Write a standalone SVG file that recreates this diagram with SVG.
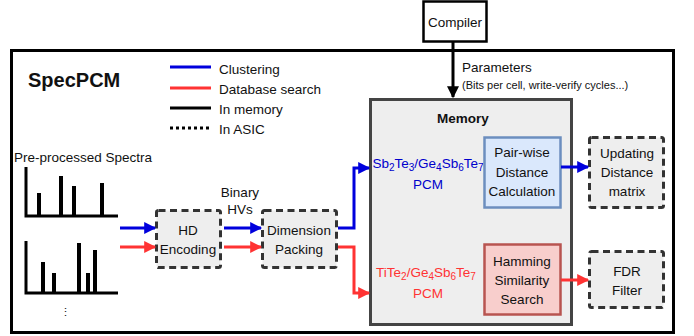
<svg xmlns="http://www.w3.org/2000/svg" width="694" height="336" viewBox="0 0 694 336">
<defs>
<style>
text{font-family:"Liberation Sans",Arial,sans-serif;font-size:13.5px;fill:#111}
.b{font-weight:bold}
.c{text-anchor:middle}
.dash{fill:#eeeeee;stroke:#333;stroke-width:3;stroke-dasharray:7 4.5}
.blue{stroke:#0000dd;stroke-width:3;fill:none}
.red{stroke:#ff3333;stroke-width:3;fill:none}
.blk{stroke:#000;stroke-width:3;fill:none}
.sub{font-size:10px}
</style>
<marker id="ab" viewBox="0 0 10 10" refX="9" refY="5" markerWidth="4.5" markerHeight="4" orient="auto" markerUnits="strokeWidth"><path d="M0,0L10,5L0,10z" fill="#0000dd"/></marker>
<marker id="ar" viewBox="0 0 10 10" refX="9" refY="5" markerWidth="4.5" markerHeight="4" orient="auto" markerUnits="strokeWidth"><path d="M0,0L10,5L0,10z" fill="#ff3333"/></marker>
<marker id="ak" viewBox="0 0 10 10" refX="9" refY="5" markerWidth="4.5" markerHeight="4" orient="auto" markerUnits="strokeWidth"><path d="M0,0L10,5L0,10z" fill="#000"/></marker>
</defs>
<rect width="694" height="336" fill="#fff"/>

<g id="frame">
<rect x="11.5" y="50.5" width="662" height="282" fill="none" stroke="#000" stroke-width="3"/>
<text x="28" y="87" class="b" style="font-size:20px">SpecPCM</text>
</g>

<g id="legend">
<line x1="170" y1="67" x2="211" y2="67" class="blue"/>
<line x1="170" y1="88" x2="211" y2="88" class="red"/>
<line x1="170" y1="108" x2="211" y2="108" class="blk"/>
<line x1="170" y1="128" x2="211" y2="128" stroke="#000" stroke-width="3" stroke-dasharray="3 3"/>
<text x="219" y="74">Clustering</text>
<text x="219" y="94">Database search</text>
<text x="219" y="114">In memory</text>
<text x="219" y="134">In ASIC</text>
</g>

<g id="spectra">
<text x="14" y="162">Pre-processed Spectra</text>
<path d="M26,167V216H118" class="blk"/>
<g stroke="#000" stroke-width="4">
<line x1="39" y1="193" x2="39" y2="216"/>
<line x1="61" y1="176" x2="61" y2="216"/>
<line x1="74" y1="186" x2="74" y2="216"/>
<line x1="102" y1="183" x2="102" y2="216"/>
</g>
<path d="M26,241V293H118" class="blk"/>
<g stroke="#000" stroke-width="4">
<line x1="43" y1="262" x2="43" y2="293"/>
<line x1="54" y1="273" x2="54" y2="293"/>
<line x1="79" y1="243" x2="79" y2="293"/>
<line x1="88" y1="273" x2="88" y2="293"/>
<line x1="95" y1="250" x2="95" y2="293"/>
</g>
<text x="65" y="316" class="c" style="font-size:11px">⋮</text>
</g>

<g id="compiler">
<rect x="423.5" y="1.5" width="63" height="40" fill="#fff" stroke="#000" stroke-width="2.5"/>
<text x="455" y="27" class="c">Compiler</text>
</g>

<g id="memory">
<rect x="370.5" y="99.5" width="201" height="225" fill="#eeeeee" stroke="#444" stroke-width="3"/>
<text x="463" y="123" class="c b">Memory</text>
<text x="428" y="168" class="c" style="fill:#0000cc">Sb<tspan class="sub" dy="3">2</tspan><tspan dy="-3">Te</tspan><tspan class="sub" dy="3">3</tspan><tspan dy="-3">/Ge</tspan><tspan class="sub" dy="3">4</tspan><tspan dy="-3">Sb</tspan><tspan class="sub" dy="3">6</tspan><tspan dy="-3">Te</tspan><tspan class="sub" dy="3">7</tspan></text>
<text x="428" y="189" class="c" style="fill:#0000cc">PCM</text>
<text x="426" y="277" class="c" style="fill:#ff3333">TiTe<tspan class="sub" dy="3">2</tspan><tspan dy="-3">/Ge</tspan><tspan class="sub" dy="3">4</tspan><tspan dy="-3">Sb</tspan><tspan class="sub" dy="3">6</tspan><tspan dy="-3">Te</tspan><tspan class="sub" dy="3">7</tspan></text>
<text x="428" y="298" class="c" style="fill:#ff3333">PCM</text>
</g>

<g id="pairwise">
<rect x="484.5" y="137.5" width="76" height="70" fill="#dae8fc" stroke="#6c8ebf" stroke-width="2.5"/>
<text x="522" y="157" class="c">Pair-wise</text>
<text x="522" y="177" class="c">Distance</text>
<text x="522" y="196" class="c">Calculation</text>
</g>

<g id="hamming">
<rect x="484.5" y="244.5" width="76" height="70" fill="#f8cecc" stroke="#b85450" stroke-width="2.5"/>
<text x="522" y="266" class="c">Hamming</text>
<text x="522" y="285" class="c">Similarity</text>
<text x="522" y="304" class="c">Search</text>
</g>

<g id="updating">
<rect x="589.5" y="137.5" width="74" height="70" class="dash" rx="2"/>
<text x="627" y="158" class="c">Updating</text>
<text x="627" y="177" class="c">Distance</text>
<text x="627" y="196" class="c">matrix</text>
</g>

<g id="fdr">
<rect x="589.5" y="251.5" width="74" height="56" class="dash" rx="2"/>
<text x="627" y="276" class="c">FDR</text>
<text x="627" y="295" class="c">Filter</text>
</g>

<g id="hdenc">
<rect x="156.5" y="210.5" width="64" height="57" class="dash" rx="2"/>
<text x="188" y="235" class="c">HD</text>
<text x="188" y="254" class="c">Encoding</text>
</g>

<g id="dimpack">
<rect x="262.5" y="210.5" width="74" height="57" class="dash" rx="2"/>
<text x="299" y="235" class="c">Dimension</text>
<text x="299" y="254" class="c">Packing</text>
</g>

<g id="labels">
<text x="240" y="197" class="c">Binary</text>
<text x="240" y="214" class="c">HVs</text>
<text x="462" y="72">Parameters</text>
<text x="462" y="89" style="font-size:11px">(Bits per cell, write-verify cycles...)</text>
</g>

<g id="connectors">
<line x1="453" y1="42" x2="453" y2="97" class="blk" marker-end="url(#ak)"/>
<line x1="120" y1="228" x2="155" y2="228" class="blue" marker-end="url(#ab)"/>
<line x1="120" y1="247" x2="155" y2="247" class="red" marker-end="url(#ar)"/>
<line x1="224" y1="228" x2="261" y2="228" class="blue" marker-end="url(#ab)"/>
<line x1="224" y1="247" x2="261" y2="247" class="red" marker-end="url(#ar)"/>
<path d="M338,228H354V168H369" class="blue" marker-end="url(#ab)"/>
<path d="M338,247H354V293H369" class="red" marker-end="url(#ar)"/>
<line x1="561" y1="167" x2="588" y2="167" class="blue" marker-end="url(#ab)"/>
<line x1="561" y1="280" x2="588" y2="280" class="red" marker-end="url(#ar)"/>
</g>
</svg>
